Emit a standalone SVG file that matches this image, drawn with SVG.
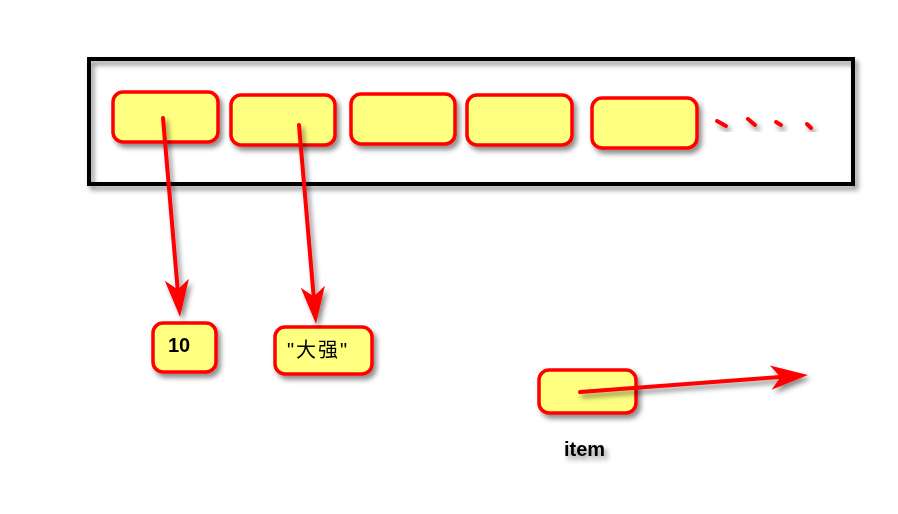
<svg xmlns="http://www.w3.org/2000/svg" width="898" height="514" viewBox="0 0 898 514">
<defs>
<filter id="sh" x="-20%" y="-20%" width="150%" height="160%">
<feDropShadow dx="3" dy="4" stdDeviation="2.5" flood-color="#000" flood-opacity="0.45"/>
</filter>
<marker id="ah" markerUnits="userSpaceOnUse" markerWidth="44" markerHeight="30" viewBox="-28 -13 40 26" refX="0" refY="0" orient="auto">
<path d="M10,0 L-24,-11 L-15,0 L-24,11 Z" fill="#ff0000"/>
</marker>
<style>
.box{fill:#ffff80;stroke:#ff0000;stroke-width:3.5}
.ln{stroke:#ff0000;stroke-width:4;fill:none;stroke-linecap:round}
.dash{stroke:#ff0000;stroke-width:4;stroke-linecap:round}
.t{font-family:"Liberation Sans","Noto Sans CJK SC",sans-serif;fill:#000}
</style>
</defs>
<rect width="898" height="514" fill="#fff"/>
<g id="container" filter="url(#sh)">
<rect x="89" y="59" width="764" height="125" fill="none" stroke="#000" stroke-width="4"/>
</g>
<g id="cell1" filter="url(#sh)"><rect class="box" x="113" y="92" width="105" height="50" rx="10"/></g>
<g id="cell2" filter="url(#sh)"><rect class="box" x="231" y="95" width="104" height="50" rx="10"/></g>
<g id="cell3" filter="url(#sh)"><rect class="box" x="351" y="94" width="104" height="50" rx="10"/></g>
<g id="cell4" filter="url(#sh)"><rect class="box" x="467" y="95" width="105" height="50" rx="10"/></g>
<g id="cell5" filter="url(#sh)"><rect class="box" x="592" y="98" width="105" height="50" rx="10"/></g>
<g id="ellipsis" filter="url(#sh)">
<line class="dash" x1="717" y1="121" x2="726" y2="126"/>
<line class="dash" x1="748" y1="119" x2="755" y2="125"/>
<line class="dash" x1="776" y1="122" x2="781" y2="125"/>
<line class="dash" x1="807" y1="124" x2="811" y2="128"/>
</g>
<g id="val10" filter="url(#sh)">
<rect class="box" x="153" y="323" width="63" height="49" rx="10"/>
<text class="t" x="168" y="352" font-size="20" font-weight="bold">10</text>
</g>
<g id="valStr" filter="url(#sh)">
<rect class="box" x="275" y="327" width="97" height="47" rx="10"/>
<text class="t" x="287" y="357" font-size="20" letter-spacing="2">"大强"</text>
</g>
<g id="item" filter="url(#sh)">
<rect class="box" x="539" y="370" width="97" height="43" rx="10"/>
</g>
<g id="itemLabel" filter="url(#sh)">
<text class="t" x="564" y="456" font-size="20" font-weight="bold">item</text>
</g>
<g id="connectors" filter="url(#sh)">
<line class="ln" x1="163" y1="118" x2="179.1" y2="306" marker-end="url(#ah)"/>
<line class="ln" x1="299" y1="125" x2="315.1" y2="313" marker-end="url(#ah)"/>
<line class="ln" x1="580" y1="392" x2="797" y2="375.7" marker-end="url(#ah)"/>
</g>
</svg>
